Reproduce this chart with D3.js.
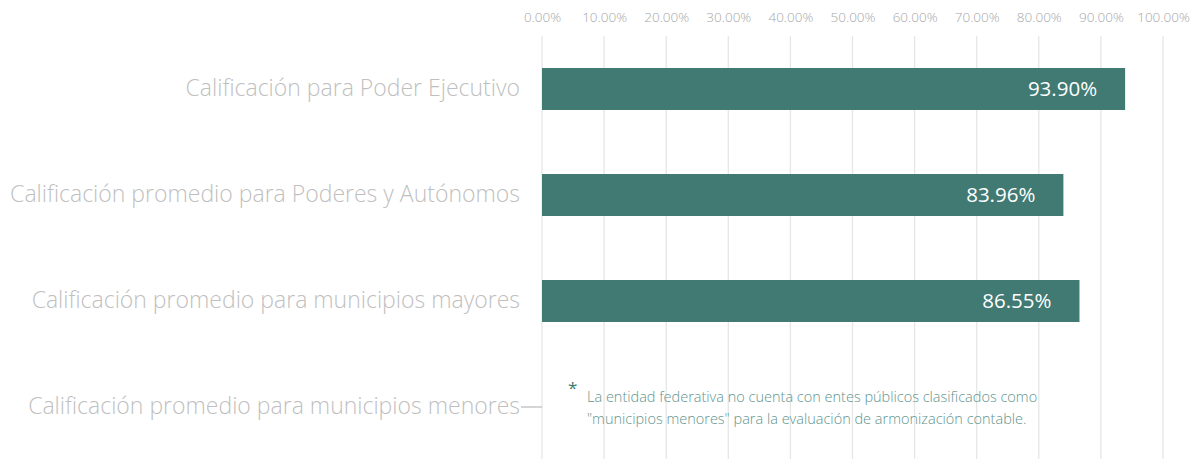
<!DOCTYPE html>
<html>
<head>
<meta charset="utf-8">
<script src="https://cdn.jsdelivr.net/npm/d3@7"></script>
<style>
  body { margin: 0; background: #fff; }
  svg { font-family: "Open Sans", "Noto Sans", sans-serif; }
</style>
</head>
<body>
<div class="chart"></div>
<script>
// chart data
var categories = [
    "Calificación para Poder Ejecutivo",
    "Calificación promedio para Poderes y Autónomos",
    "Calificación promedio para municipios mayores",
    "Calificación promedio para municipios menores"
];
var values = [0.939, 0.8396, 0.8655, null];
var valueLabels = ["93.90%", "83.96%", "86.55%", ""];
var tickValues = [0, 0.1, 0.2, 0.3, 0.4, 0.5, 0.6, 0.7, 0.8, 0.9, 1.0];
var noteLines = [
    "La entidad federativa no cuenta con entes públicos clasificados como",
    "\"municipios menores\" para la evaluación de armonización contable."
];

var svgWidth = 1196;
var svgHeight = 459;

var margin = { top: 36, right: 33, bottom: 0, left: 542 };
var width = svgWidth - margin.left - margin.right;
var height = 424;

var svg = d3.select(".chart")
    .append("svg")
    .attr("width", svgWidth)
    .attr("height", svgHeight);

var chartGroup = svg.append("g")
    .attr("transform", `translate(${margin.left}, ${margin.top})`);

var xScale = d3.scaleLinear()
    .domain([0, 1])
    .range([0, width]);

var yScale = d3.scaleBand()
    .domain(categories)
    .range([0, height])
    .paddingInner(0.604)
    .paddingOuter(0.302);

// gridlines
chartGroup.selectAll(".grid")
    .data(tickValues)
    .enter()
    .append("line")
    .attr("x1", d => xScale(d))
    .attr("x2", d => xScale(d))
    .attr("y1", 0)
    .attr("y2", height)
    .attr("stroke", "#e6e6e6")
    .attr("stroke-width", 1.3);

// top axis labels
var topAxis = d3.axisTop(xScale)
    .tickValues(tickValues)
    .tickFormat(d3.format(".2%"))
    .tickSize(0)
    .tickPadding(0);

var axisG = chartGroup.append("g")
    .attr("transform", "translate(0, -14)")
    .call(topAxis);
axisG.select(".domain").remove();
axisG.selectAll("text")
    .attr("fill", "#a6a6a6")
    .attr("font-size", "13.5px")
    .attr("font-weight", 300)
    .attr("font-family", "\"Open Sans\", sans-serif");

// bars
var barData = categories.map((c, i) => ({ cat: c, value: values[i], label: valueLabels[i] }))
    .filter(d => d.value !== null);

chartGroup.selectAll(".bar")
    .data(barData)
    .enter()
    .append("rect")
    .attr("x", 0)
    .attr("y", d => yScale(d.cat))
    .attr("width", d => xScale(d.value))
    .attr("height", yScale.bandwidth())
    .attr("fill", "#407a72");

chartGroup.selectAll(".vlabel")
    .data(barData)
    .enter()
    .append("text")
    .attr("x", d => xScale(d.value) - 28)
    .attr("y", d => yScale(d.cat) + yScale.bandwidth() / 2)
    .attr("dy", "0.36em")
    .attr("text-anchor", "end")
    .attr("fill", "#ffffff")
    .attr("font-size", "20.5px")
    .text(d => d.label);

// category labels
var leftAxis = d3.axisLeft(yScale).tickSize(0).tickPadding(22);
var leftG = chartGroup.append("g").call(leftAxis);
leftG.select(".domain").remove();
leftG.selectAll("text")
    .attr("fill", "#bfbfbf")
    .attr("font-size", "23px")
    .attr("font-weight", 300)
    .attr("font-family", "\"Open Sans\", sans-serif");

// leader line for the empty category
chartGroup.append("line")
    .attr("x1", -21)
    .attr("x2", 0)
    .attr("y1", yScale(categories[3]) + yScale.bandwidth() / 2)
    .attr("y2", yScale(categories[3]) + yScale.bandwidth() / 2)
    .attr("stroke", "#bfbfbf")
    .attr("stroke-width", 1.3);

// footnote
svg.append("text")
    .attr("x", 568)
    .attr("y", 394)
    .attr("fill", "#407a72")
    .attr("font-size", "17px")
    .text("*");

svg.selectAll(".note")
    .data(noteLines)
    .enter()
    .append("text")
    .attr("x", 587)
    .attr("y", (d, i) => 402 + i * 22)
    .attr("fill", "#5f958d")
    .attr("font-size", "14.5px")
    .attr("font-weight", 300)
    .text(d => d);
</script>
</body>
</html>
